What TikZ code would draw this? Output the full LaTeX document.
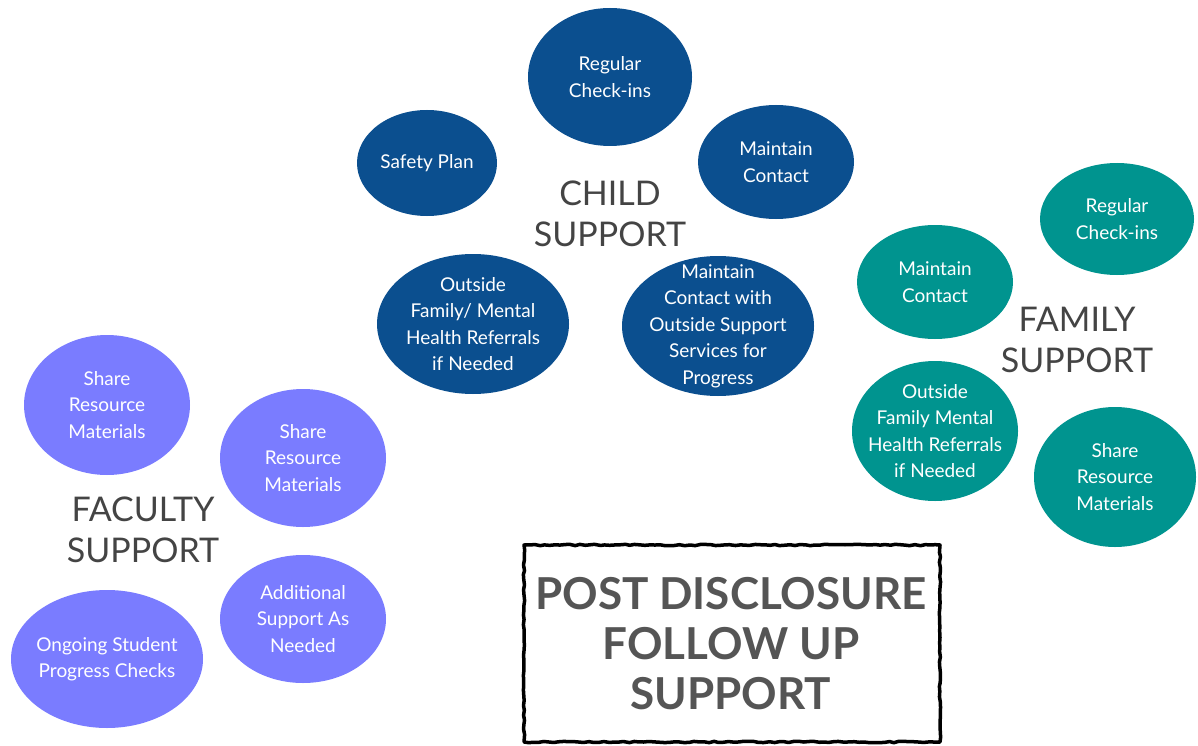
\documentclass[tikz,border=0pt]{standalone}
\usepackage{fontspec}
\setmainfont{Lato}
\usepackage{tikz}
\usetikzlibrary{shapes.geometric}
\usetikzlibrary{decorations.pathmorphing}

\definecolor{childblue}{HTML}{0B4F8F}
\definecolor{familyteal}{HTML}{00948F}
\definecolor{facultyviolet}{HTML}{7A7CFF}
\definecolor{labelgray}{HTML}{444444}
\definecolor{titlegray}{HTML}{555555}

\begin{document}
\begin{tikzpicture}[
x                   = 1pt,
y                   = -1pt,
bubble/.style       = {ellipse, inner sep=0pt},
bubbletext/.style   = {align=center, text=white, inner sep=0pt,
                       font=\fontsize{19}{26.5}\selectfont},
childnode/.style    = {bubble, fill=childblue},
familynode/.style   = {bubble, fill=familyteal},
facultynode/.style  = {bubble, fill=facultyviolet},
grouplabel/.style   = {align=center, text=labelgray, font=\fontsize{34}{41}\selectfont},
titlebox/.style     = {align=center, text=titlegray, font=\fontsize{44}{50}\selectfont\bfseries}
]

\useasboundingbox (0,0) rectangle (1198,746);

% child support
\node [childnode, minimum width=164, minimum height=138] (childcheck) at (610,77) {};
\node [childnode, minimum width=140, minimum height=106] (childsafety) at (427,163) {};
\node [childnode, minimum width=156, minimum height=114] (childcontact) at (776,162) {};
\node [childnode, minimum width=192, minimum height=140] (childreferral) at (473,324) {};
\node [childnode, minimum width=192, minimum height=140] (childservices) at (718,326) {};
\node [bubbletext] (childchecktext) at (childcheck) {Regular\\Check-ins};
\node [bubbletext] (childsafetytext) at (childsafety) {Safety Plan};
\node [bubbletext] (childcontacttext) at (childcontact) {Maintain\\Contact};
\node [bubbletext] (childreferraltext) at (childreferral) {Outside\\Family/ Mental\\Health Referrals\\if Needed};
\node [bubbletext] (childservicestext) at (childservices) {Maintain\\Contact with\\Outside Support\\Services for\\Progress};
\node [grouplabel] (childlabel) at (610,214) {CHILD\\SUPPORT};

% family support
\node [familynode, minimum width=154, minimum height=112] (familycheck) at (1117,219) {};
\node [familynode, minimum width=156, minimum height=114] (familycontact) at (935,282) {};
\node [familynode, minimum width=166, minimum height=140] (familyreferral) at (935,431) {};
\node [familynode, minimum width=162, minimum height=140] (familyshare) at (1115,477) {};
\node [bubbletext] (familychecktext) at (familycheck) {Regular\\Check-ins};
\node [bubbletext] (familycontacttext) at (familycontact) {Maintain\\Contact};
\node [bubbletext] (familyreferraltext) at (familyreferral) {Outside\\Family Mental\\Health Referrals\\if Needed};
\node [bubbletext] (familysharetext) at (familyshare) {Share\\Resource\\Materials};
\node [grouplabel] (familylabel) at (1077,340) {FAMILY\\SUPPORT};

% faculty support
\node [facultynode, minimum width=166, minimum height=140] (facultyshareA) at (107,405) {};
\node [facultynode, minimum width=166, minimum height=138] (facultyshareB) at (303,458) {};
\node [facultynode, minimum width=166, minimum height=128] (facultyextra) at (303,619) {};
\node [facultynode, minimum width=192, minimum height=138] (facultychecks) at (107,659) {};
\node [bubbletext] (facultyshareAtext) at (facultyshareA) {Share\\Resource\\Materials};
\node [bubbletext] (facultyshareBtext) at (facultyshareB) {Share\\Resource\\Materials};
\node [bubbletext] (facultyextratext) at (facultyextra) {Additional\\Support As\\Needed};
\node [bubbletext] (facultycheckstext) at (facultychecks) {Ongoing Student\\Progress Checks};
\node [grouplabel] (facultylabel) at (143,530) {FACULTY\\SUPPORT};

% title
\draw [line width=3.5pt, line join=round,
       decorate, decoration={random steps, segment length=5pt, amplitude=0.7pt}]
  (524,545) rectangle (940,742);
\node [titlebox] (title) at (731,644) {POST DISCLOSURE\\FOLLOW UP\\SUPPORT};

\end{tikzpicture}
\end{document}
